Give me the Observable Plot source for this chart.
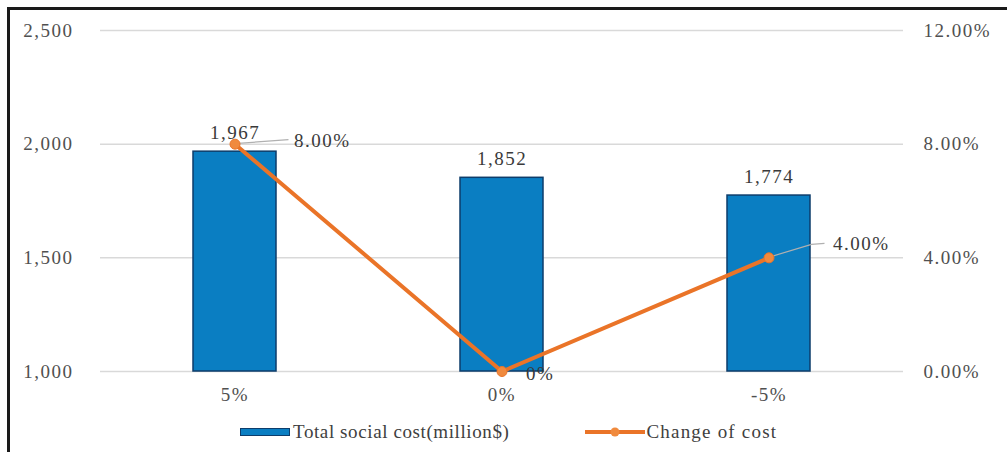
<!DOCTYPE html>
<html>
<head>
<meta charset="utf-8">
<script src="https://cdn.jsdelivr.net/npm/d3@7"></script>
<script src="https://cdn.jsdelivr.net/npm/@observablehq/plot@0.6"></script>
<style>
  html, body { margin: 0; padding: 0; background: #fff; }
  #wrap { position: relative; width: 1007px; height: 452px; overflow: hidden; }
  #frame { position: absolute; left: 7px; top: 7px; width: 1100px; height: 500px;
           border-left: 3px solid #1a1a1a; border-top: 3px solid #1a1a1a; box-sizing: border-box; }
  #chart { position: absolute; left: 0; top: 0; }
  #legend { position: absolute; left: 240px; top: 421px; display: flex; align-items: center;
            font-family: "Liberation Serif", serif; font-size: 19px; letter-spacing: 0.6px; color: #404040; }
  .item { display: flex; align-items: center; }
  .swatch-bar { width: 50px; height: 8px; background: #0a7ec2; border: 1px solid #0d3d6b; box-sizing: border-box; margin-right: 3px; }
</style>
</head>
<body>
<div id="wrap">
  <div id="frame"></div>
  <div id="chart"></div>
  <div id="legend"></div>
</div>
<script>
// Sensitivity scenarios and their results
const categories = ["5%", "0%", "-5%"];
const totalCost = [1967, 1852, 1774];     // million $
const costChange = [0.08, 0.00, 0.04];    // change of cost
const leftTicks = [1000, 1500, 2000, 2500];
const rightTicks = [0, 0.04, 0.08, 0.12];
const seriesNames = ["Total social cost(million$)", "Change of cost"];

const blue = "#0a7ec2";
const orange = "#ea7428";
const font = "Liberation Serif";

// The percent series shares the cost axis: 0%..12% maps onto 1,000..2,500
const [yMin, yMax] = [leftTicks[0], leftTicks[leftTicks.length - 1]];
const pMax = rightTicks[rightTicks.length - 1];
const toLeft = p => yMin + p * (yMax - yMin) / pMax;
const fromLeft = v => (v - yMin) / (yMax - yMin) * pMax;

const rows = categories.map((cat, i) => ({cat, cost: totalCost[i], change: costChange[i]}));
const pctText = p => p === 0 ? "0%" : (p * 100).toFixed(2) + "%";
const pctTick = p => (p * 100).toFixed(2) + "%";

// Leader lines from a point to its offset label
function leader(i, path) {
  return (index, scales) => {
    const x = scales.x, y = scales.y;
    const bw = x.bandwidth ? x.bandwidth() : 0;
    const cx = x(rows[i].cat) + bw / 2;
    const cy = y(toLeft(rows[i].change));
    const d = "M" + cx + "," + cy + path.map(([dx, dy]) => "L" + (cx + dx) + "," + (cy + dy)).join("");
    return d3.create("svg:path")
      .attr("d", d).attr("fill", "none")
      .attr("stroke", "#b0b0b0").attr("stroke-width", 1.2)
      .node();
  };
}

function pctLabel(i, dx, dy) {
  return Plot.text([rows[i]], {
    x: "cat", y: d => toLeft(d.change), text: d => pctText(d.change),
    dx, dy, textAnchor: "start", fill: "#3a3a3a", fontSize: 19
  });
}

const chart = Plot.plot({
  width: 1007,
  height: 410,
  marginLeft: 100,
  marginRight: 104,
  marginTop: 30,
  marginBottom: 39,
  style: {fontFamily: font, fontSize: "19px", letterSpacing: "1.5px", color: "#505050", background: "transparent"},
  x: {domain: categories, paddingInner: 0.69, paddingOuter: 0.345, label: null},
  y: {domain: [yMin, yMax], label: null},
  marks: [
    Plot.gridY(leftTicks, {stroke: "#d9d9d9", strokeOpacity: 1, strokeWidth: 1.5}),
    Plot.barY(rows, {x: "cat", y1: yMin, y2: "cost", fill: blue, stroke: "#0d3d6b", strokeWidth: 1.5}),
    Plot.axisY(leftTicks, {anchor: "left", tickSize: 0, tickPadding: 27, tickFormat: d3.format(","), label: null, fontSize: 19}),
    Plot.axisY(rightTicks.map(toLeft), {anchor: "right", tickSize: 0, tickPadding: 20, tickFormat: v => pctTick(fromLeft(v)), label: null, fontSize: 19}),
    Plot.axisX({tickSize: 0, tickPadding: 16, label: null, fontSize: 19}),
    leader(0, [[54, -4]]),
    leader(2, [[43, -13], [56, -14]]),
    Plot.line(rows, {x: "cat", y: d => toLeft(d.change), stroke: orange, strokeWidth: 4}),
    Plot.dot(rows, {x: "cat", y: d => toLeft(d.change), r: 5, fill: "#f08a3e", stroke: orange, strokeWidth: 1}),
    Plot.text(rows, {x: "cat", y: "cost", text: d => d3.format(",")(d.cost), dy: -19, fill: "#3a3a3a", fontSize: 19}),
    pctLabel(0, 59, -3),
    pctLabel(1, 24, 2),
    pctLabel(2, 64, -14)
  ]
});
document.getElementById("chart").append(chart);

// Legend below the chart
const legend = d3.select("#legend");
const a = legend.append("div").attr("class", "item");
a.append("div").attr("class", "swatch-bar");
a.append("span").text(seriesNames[0]);
const b = legend.append("div").attr("class", "item").style("margin-left", "75px");
const sw = b.append("svg").attr("width", 62).attr("height", 14);
sw.append("line").attr("x1", 1).attr("x2", 61).attr("y1", 7).attr("y2", 7).attr("stroke", orange).attr("stroke-width", 4);
sw.append("circle").attr("cx", 31).attr("cy", 7).attr("r", 4.5).attr("fill", "#f08a3e");
b.append("span").style("letter-spacing", "1.2px").text(seriesNames[1]);
</script>
</body>
</html>
